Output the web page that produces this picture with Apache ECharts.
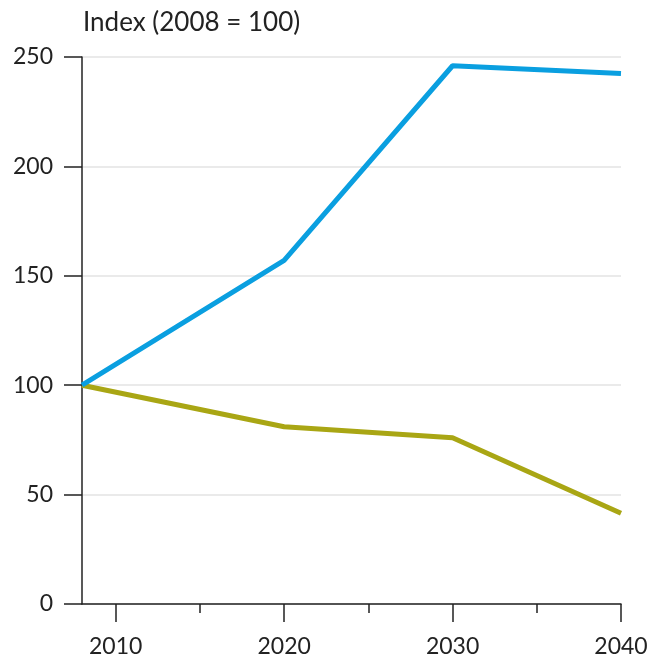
<!DOCTYPE html>
<html>
<head>
<meta charset="utf-8">
<script src="https://cdn.jsdelivr.net/npm/echarts@6/dist/echarts.min.js"></script>
<style>html,body{margin:0;padding:0;background:#fff}#c{width:657px;height:658px}</style>
</head>
<body>
<div id="c"></div>
<script>
const years = [2008, 2020, 2030, 2040];
const seriesBlue = [100, 157, 246, 242.5];
const seriesOlive = [100, 81, 76, 41.5];
const xLabelValues = [2010, 2020, 2030, 2040];
const xMinorValues = [2015, 2025, 2035];
const yTitle = 'Index (2008 = 100)';

const FONT = 'Lato';
const chart = echarts.init(document.getElementById('c'));
const pair = (xs, ys) => xs.map((x, i) => [x, ys[i]]);
chart.setOption({
  animation: false,
  title: { text: yTitle, left: 78, top: 5, textStyle: { fontFamily: FONT, fontSize: 26, fontWeight: 'normal', color: '#222' } },
  grid: { left: 82, right: 36, top: 57, bottom: 54 },
  xAxis: [{
    type: 'value', min: 2008, max: 2040,
    axisLine: { show: true, lineStyle: { color: '#222', width: 1.5 } },
    axisTick: { show: true, length: 18, customValues: xLabelValues, lineStyle: { color: '#222', width: 1.5 } },
    axisLabel: { customValues: xLabelValues, margin: 31, formatter: v => String(v), fontFamily: FONT, fontSize: 23, color: '#222' },
    splitLine: { show: false }
  }, {
    type: 'value', min: 2008, max: 2040, position: 'bottom',
    axisLine: { show: false },
    axisTick: { show: true, length: 9, customValues: xMinorValues, lineStyle: { color: '#222', width: 1.5 } },
    axisLabel: { show: false },
    splitLine: { show: false }
  }],
  yAxis: {
    type: 'value', min: 0, max: 250, interval: 50,
    axisLine: { show: true, lineStyle: { color: '#222', width: 1.5 } },
    axisTick: { show: true, length: 18, lineStyle: { color: '#222', width: 1.5 } },
    axisLabel: { margin: 29, fontFamily: FONT, fontSize: 23, color: '#222' },
    splitLine: { show: true, lineStyle: { color: '#e3e3e3', width: 1.5 } }
  },
  series: [
    { type: 'line', data: pair(years, seriesBlue), symbol: 'none', lineStyle: { color: '#0a9fe0', width: 5 }, z: 3 },
    { type: 'line', data: pair(years, seriesOlive), symbol: 'none', lineStyle: { color: '#a9a614', width: 5 }, z: 2 }
  ]
});
</script>
</body>
</html>
